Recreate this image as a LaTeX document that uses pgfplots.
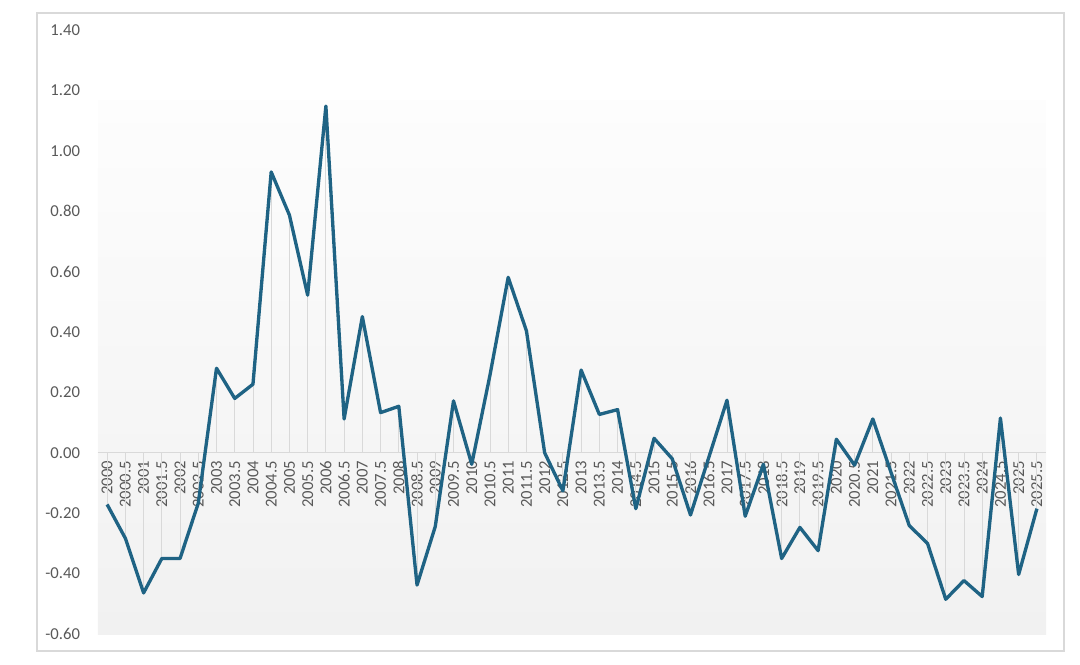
\documentclass[border=0pt]{standalone}
\usepackage{pgfplots}
\pgfplotsset{compat=1.18}
\usepackage{fontspec}
\setmainfont{Carlito}
\definecolor{linec}{RGB}{31,99,132}
\definecolor{lblc}{RGB}{89,89,89}
\definecolor{framec}{RGB}{217,217,217}
\definecolor{dropc}{RGB}{217,217,217}
\definecolor{bgtop}{RGB}{253,253,253}
\definecolor{bgbot}{RGB}{241,241,241}
\begin{document}
\begin{tikzpicture}
\useasboundingbox (-73.5pt,-22.5pt) rectangle (736.5pt,475.5pt);
\draw[framec, line width=1pt] (-45.75pt,-12.75pt) rectangle (724.5pt,465.75pt);
\fill[top color=bgtop, bottom color=bgbot] (0pt,0pt) rectangle (711pt,400.2pt);
\begin{axis}[
  scale only axis,
  width=711pt, height=453pt,
  xmin=1999.75, xmax=2025.75,
  ymin=-0.6, ymax=1.4,
  axis x line=middle,
  axis y line=left,
  x axis line style={draw=framec, line width=0.75pt, -},
  y axis line style={draw=none, -},
  hide obscured x ticks=false,
  hide obscured y ticks=false,
  major tick length=0pt,
  xtick={2000,2000.5,2001,2001.5,2002,2002.5,2003,2003.5,2004,2004.5,2005,2005.5,2006,2006.5,2007,2007.5,2008,2008.5,2009,2009.5,2010,2010.5,2011,2011.5,2012,2012.5,2013,2013.5,2014,2014.5,2015,2015.5,2016,2016.5,2017,2017.5,2018,2018.5,2019,2019.5,2020,2020.5,2021,2021.5,2022,2022.5,2023,2023.5,2024,2024.5,2025,2025.5},
  xticklabels={2000,2000.5,2001,2001.5,2002,2002.5,2003,2003.5,2004,2004.5,2005,2005.5,2006,2006.5,2007,2007.5,2008,2008.5,2009,2009.5,2010,2010.5,2011,2011.5,2012,2012.5,2013,2013.5,2014,2014.5,2015,2015.5,2016,2016.5,2017,2017.5,2018,2018.5,2019,2019.5,2020,2020.5,2021,2021.5,2022,2022.5,2023,2023.5,2024,2024.5,2025,2025.5},
  ytick={-0.6,-0.4,-0.2,0,0.2,0.4,0.6,0.8,1.0,1.2,1.4},
  yticklabel style={/pgf/number format/.cd, fixed, fixed zerofill, precision=2, assume math mode=true},
  tick label style={font=\fontsize{12.5}{14}\selectfont, text=lblc},
  xticklabel style={rotate=90, anchor=east, inner sep=2pt},
  xticklabel shift=4pt,
  yticklabel shift=10pt,
  clip=false,
]
\pgfplotstableread{
x y
2000 -0.171
2000.5 -0.283
2001 -0.464
2001.5 -0.350
2002 -0.350
2002.5 -0.167
2003 0.280
2003.5 0.180
2004 0.227
2004.5 0.930
2005 0.787
2005.5 0.522
2006 1.148
2006.5 0.112
2007 0.451
2007.5 0.133
2008 0.154
2008.5 -0.438
2009 -0.244
2009.5 0.172
2010 -0.038
2010.5 0.257
2011 0.581
2011.5 0.404
2012 0.000
2012.5 -0.126
2013 0.274
2013.5 0.127
2014 0.143
2014.5 -0.185
2015 0.048
2015.5 -0.020
2016 -0.206
2016.5 -0.016
2017 0.174
2017.5 -0.210
2018 -0.038
2018.5 -0.350
2019 -0.247
2019.5 -0.324
2020 0.045
2020.5 -0.041
2021 0.112
2021.5 -0.065
2022 -0.241
2022.5 -0.300
2023 -0.485
2023.5 -0.423
2024 -0.476
2024.5 0.115
2025 -0.403
2025.5 -0.185
}\datatable
\addplot[ycomb, draw=dropc, line width=0.6pt, no marks] table[x=x,y=y] {\datatable};
\addplot[linec, line width=2.5pt, line join=round, no marks] table[x=x,y=y] {\datatable};
\end{axis}
\end{tikzpicture}
\end{document}
